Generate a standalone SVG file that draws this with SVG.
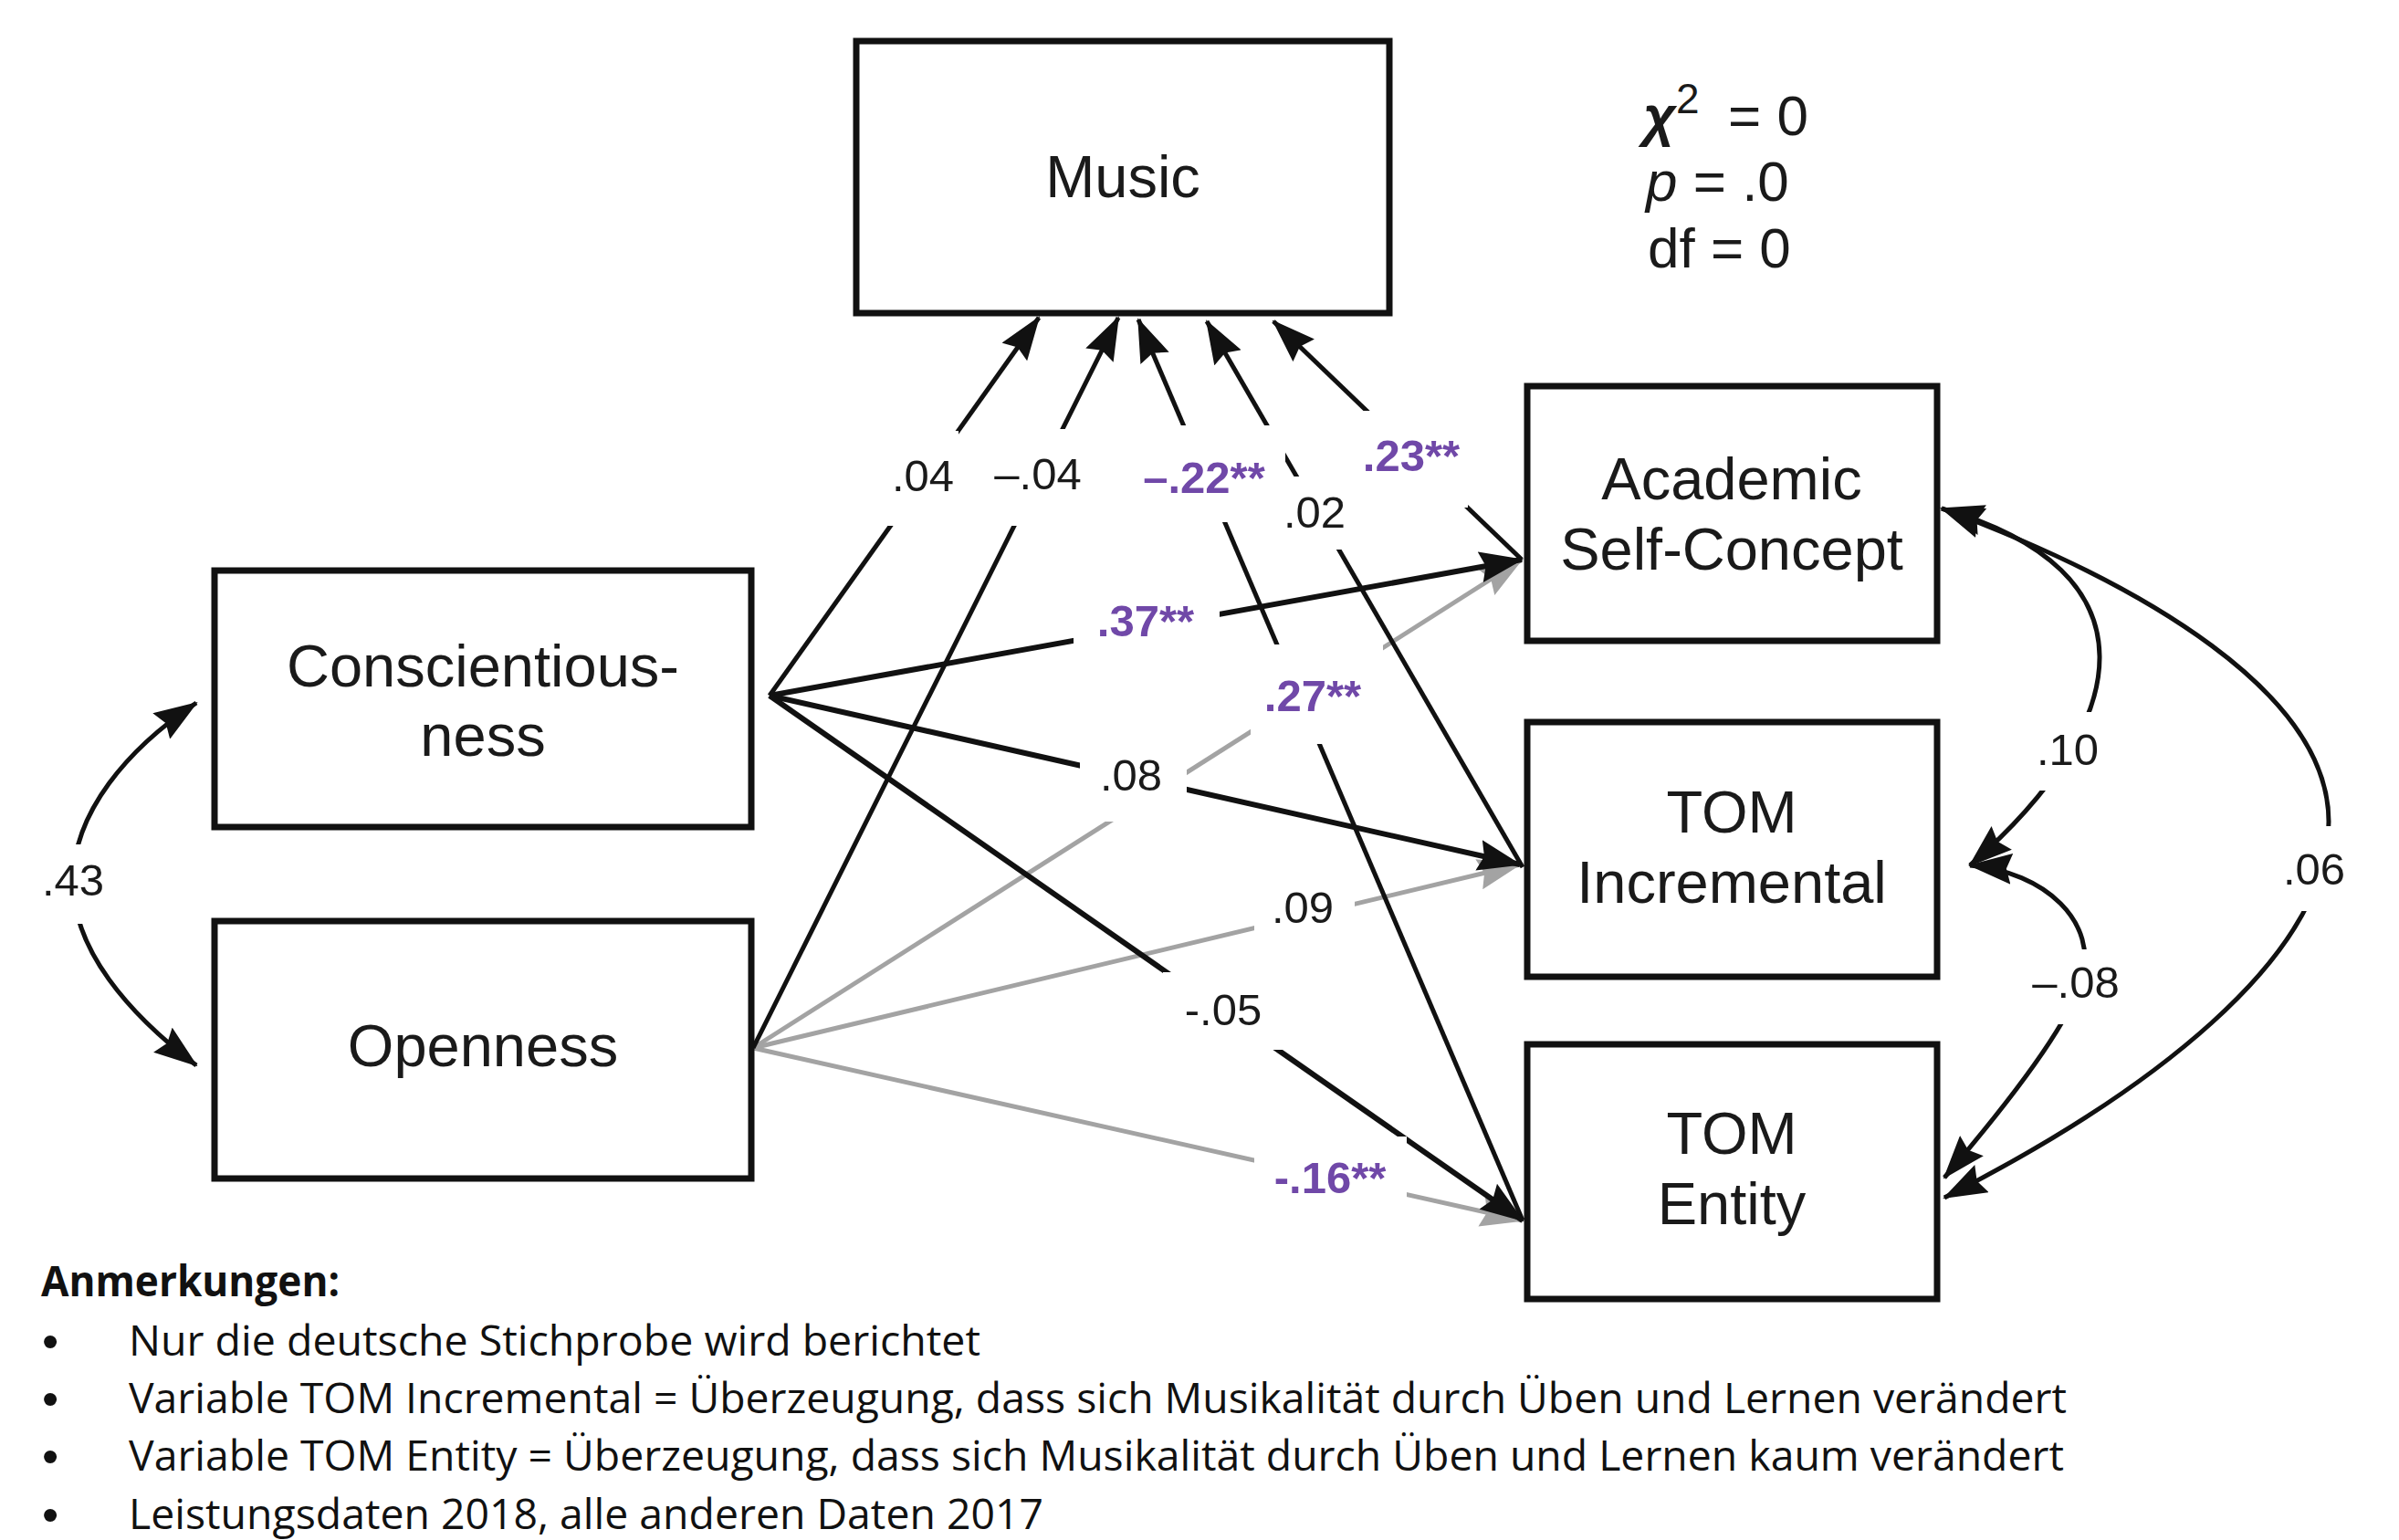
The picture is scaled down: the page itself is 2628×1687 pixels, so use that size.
<svg xmlns="http://www.w3.org/2000/svg" width="2628" height="1687" viewBox="0 0 2628 1687">
<style>
.box{fill:#fff;stroke:#111;stroke-width:7}
.nl{font-family:"Liberation Sans",Arial,sans-serif;font-size:65px;fill:#1a1a1a;text-anchor:middle}
.el{font-family:"Liberation Sans",Arial,sans-serif;font-size:49px;fill:#1a1a1a;text-anchor:middle}
.sig{fill:#7048a8;font-weight:bold}
.bg{fill:#fff}
.blk{fill:none;stroke:#111;stroke-width:5;marker-end:url(#ah)}
.blk2{fill:none;stroke:#111;stroke-width:6;marker-end:url(#ah)}
.gry{fill:none;stroke:#a3a3a3;stroke-width:5;marker-end:url(#ahg)}
.cov{fill:none;stroke:#111;stroke-width:5;marker-start:url(#ah);marker-end:url(#ah)}
.note{font-family:"Open Sans","Noto Sans",sans-serif;font-size:46px;fill:#111}
.bul{font-family:"Liberation Sans",Arial,sans-serif;font-size:52px;fill:#111}
.stat{font-family:"Liberation Sans",Arial,sans-serif;font-size:62px;fill:#1a1a1a}
</style>
<defs>
<marker id="ah" markerUnits="userSpaceOnUse" markerWidth="48" markerHeight="34" viewBox="0 0 48 34" refX="46" refY="17" orient="auto-start-reverse"><path d="M0,0 L48,17 L0,34 L6,17 z" fill="#111"/></marker>
<marker id="ahg" markerUnits="userSpaceOnUse" markerWidth="48" markerHeight="34" viewBox="0 0 48 34" refX="46" refY="17" orient="auto-start-reverse"><path d="M0,0 L48,17 L0,34 L6,17 z" fill="#a3a3a3"/></marker>
</defs>
<rect width="2628" height="1687" fill="#fff"/>

<g id="connectors">
<line class="gry" x1="825" y1="1148" x2="1667" y2="613"/>
<line class="gry" x1="825" y1="1148" x2="1665" y2="947"/>
<line class="gry" x1="825" y1="1148" x2="1668" y2="1337"/>
<line class="blk" x1="843" y1="762" x2="1138" y2="348"/>
<line class="blk" x1="825" y1="1148" x2="1225" y2="348"/>
<line class="blk" x1="1668" y1="1337" x2="1247" y2="350"/>
<line class="blk" x1="1668" y1="950" x2="1322" y2="352"/>
<line class="blk" x1="1667" y1="613" x2="1395" y2="352"/>
<line class="blk2" x1="843" y1="762" x2="1667" y2="613"/>
<line class="blk2" x1="843" y1="762" x2="1665" y2="947"/>
<line class="blk2" x1="843" y1="762" x2="1668" y2="1337"/>
<path class="cov" d="M2127,557 C2365,625 2340,790 2158,948"/>
<path class="cov" d="M2127,557 C2350,640 2551,760 2551,900 C2551,1050 2350,1200 2130,1312"/>
<path class="cov" d="M2158,948 C2240,955 2300,1010 2280,1075 C2264,1127 2190,1220 2130,1290"/>
<path class="cov" d="M215,770 C140,820 80,890 80,966 C80,1040 140,1110 215,1167"/>

<rect class="bg" x="972" y="472" width="78" height="104"/>
<rect class="bg" x="1088" y="470" width="100" height="106"/>
<rect class="bg" x="1246" y="466" width="162" height="106"/>
<rect class="bg" x="1400" y="522" width="80" height="80"/>
<rect class="bg" x="1480" y="450" width="128" height="106"/>
<rect class="bg" x="1176" y="645" width="160" height="67"/>
<rect class="bg" x="1370" y="706" width="145" height="109"/>
<rect class="bg" x="1183" y="830" width="117" height="70"/>
<rect class="bg" x="1374" y="965" width="110" height="55"/>
<rect class="bg" x="1274" y="1065" width="132" height="85"/>
<rect class="bg" x="1374" y="1245" width="167" height="85"/>
<rect class="bg" x="2222" y="780" width="88" height="86"/>
<rect class="bg" x="2218" y="1040" width="112" height="82"/>
<rect class="bg" x="2495" y="905" width="80" height="93"/>
<rect class="bg" x="40" y="925" width="80" height="87"/>

<text class="el" x="1011" y="538">.04</text>
<text class="el" x="1137" y="536">–.04</text>
<text class="el sig" x="1319" y="540">–.22**</text>
<text class="el" x="1440" y="578">.02</text>
<text class="el sig" x="1546" y="516">.23**</text>
<text class="el sig" x="1255" y="697">.37**</text>
<text class="el sig" x="1438" y="779">.27**</text>
<text class="el" x="1239" y="866">.08</text>
<text class="el" x="1427" y="1011">.09</text>
<text class="el" x="1340" y="1123">-.05</text>
<text class="el sig" x="1457" y="1307">-.16**</text>
<text class="el" x="2265" y="838">.10</text>
<text class="el" x="2274" y="1093">–.08</text>
<text class="el" x="2535" y="969">.06</text>
<text class="el" x="80" y="981">.43</text>
</g>

<g id="music"><rect class="box" x="938" y="45" width="584" height="298"/><text class="nl" x="1230" y="216">Music</text></g>
<g id="conscientiousness"><rect class="box" x="235" y="625" width="588" height="281"/><text class="nl" x="529" y="752">Conscientious-</text><text class="nl" x="529" y="828">ness</text></g>
<g id="openness"><rect class="box" x="235" y="1009" width="588" height="282"/><text class="nl" x="529" y="1168">Openness</text></g>
<g id="academic"><rect class="box" x="1673" y="423" width="449" height="279"/><text class="nl" x="1897" y="547">Academic</text><text class="nl" x="1897" y="624">Self-Concept</text></g>
<g id="tom-incremental"><rect class="box" x="1673" y="791" width="449" height="279"/><text class="nl" x="1897" y="912">TOM</text><text class="nl" x="1897" y="989">Incremental</text></g>
<g id="tom-entity"><rect class="box" x="1673" y="1144" width="449" height="279"/><text class="nl" x="1897" y="1264">TOM</text><text class="nl" x="1897" y="1341">Entity</text></g>

<g id="fit">
<text class="stat" x="1800" y="148"><tspan font-style="italic" font-weight="bold">χ</tspan><tspan x="1836" y="124" font-size="46">2</tspan><tspan x="1893" y="148">= 0</tspan></text>
<text class="stat" x="1803" y="220"><tspan font-style="italic">p</tspan> = .0</text>
<text class="stat" x="1805" y="293">df = 0</text>
</g>

<g id="notes">
<text class="note" x="45" y="1420" font-weight="bold" textLength="327" lengthAdjust="spacingAndGlyphs">Anmerkungen:</text>
<text class="bul" x="46" y="1487">•</text>
<text class="note" x="141" y="1485" textLength="933" lengthAdjust="spacingAndGlyphs">Nur die deutsche Stichprobe wird berichtet</text>
<text class="bul" x="46" y="1550">•</text>
<text class="note" x="141" y="1548" textLength="2123" lengthAdjust="spacingAndGlyphs">Variable TOM Incremental = Überzeugung, dass sich Musikalität durch Üben und Lernen verändert</text>
<text class="bul" x="46" y="1613">•</text>
<text class="note" x="141" y="1611" textLength="2120" lengthAdjust="spacingAndGlyphs">Variable TOM Entity = Überzeugung, dass sich Musikalität durch Üben und Lernen kaum verändert</text>
<text class="bul" x="46" y="1677">•</text>
<text class="note" x="141" y="1675" textLength="1002" lengthAdjust="spacingAndGlyphs">Leistungsdaten 2018, alle anderen Daten 2017</text>
</g>
</svg>
